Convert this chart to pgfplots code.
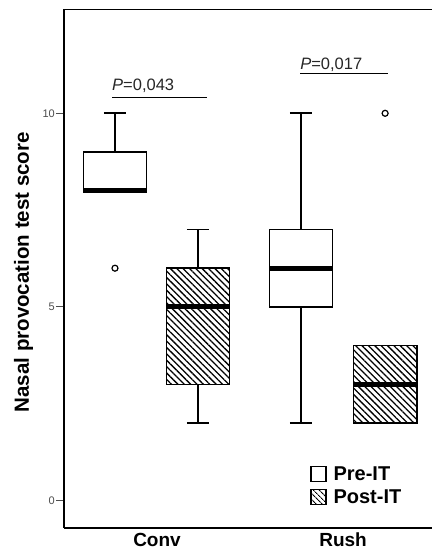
\documentclass[border=0pt]{standalone}
\usepackage{fontspec}
\setmainfont{Liberation Sans}
\usepackage{pgfplots}
\pgfplotsset{compat=1.18}
\usepgfplotslibrary{statistics}
\usetikzlibrary{patterns.meta}

\tikzset{hatch/.style={pattern={Lines[angle=-45,distance=4.5pt,line width=1.3pt]}, pattern color=black}}
\pgfplotsset{bx/.style={forget plot, black, line width=1.6pt, mark=o, mark size=3pt,
    mark options={line width=1.2pt, fill=white},
    boxplot/every median/.style={line width=5pt}}}

\begin{document}
\begin{tikzpicture}
\begin{axis}[
    name=ax,
    scale only axis,
    width=368pt, height=518.2pt,
    xmin=0.5, xmax=2.478,
    ymin=-0.70, ymax=12.68,
    separate axis lines,
    axis x line*=box,
    axis y line*=left,
    axis line style={line width=1.8pt},
    xtick={1,2},
    xticklabels={Conv,Rush},
    x tick style={draw=none},
    xticklabel style={font=\bfseries\fontsize{19}{19}\selectfont, inner sep=0pt, anchor=north, yshift=3pt},
    ytick={0,5,10},
    ytick pos=left,
    tick align=outside,
    major tick length=8pt,
    y tick style={line width=1pt, black!70},
    yticklabel style={font=\fontsize{11}{11}\selectfont, text=black!70, inner sep=1pt},
    /pgf/number format/assume math mode=true,
    ylabel={Nasal provocation test score},
    ylabel style={font=\bfseries\fontsize{20.5}{20.5}\selectfont, at={(axis description cs:-0.110,0.493)}, anchor=center},
    boxplot/draw direction=y,
    boxplot/box extend=0.34,
    boxplot/whisker extend=0.12,
    legend style={at={(axis cs:1.823,0.94)}, anchor=north west, draw=none, fill=none,
        font=\bfseries\fontsize{20}{20}\selectfont, inner sep=0pt, row sep=4pt,
        /tikz/every odd column/.append style={column sep=5pt}},
    legend cell align=left,
]
% Conv, pre-IT
\addplot[bx, fill=white,
  boxplot prepared={draw position=0.774, lower whisker=8, lower quartile=8,
    median=8, upper quartile=9, upper whisker=10}] coordinates {(0,6)};
% Conv, post-IT
\addplot[bx, boxplot/every box/.style={hatch},
  boxplot prepared={draw position=1.22, lower whisker=2, lower quartile=3,
    median=5, upper quartile=6, upper whisker=7}] coordinates {};
% Rush, pre-IT
\addplot[bx, fill=white,
  boxplot prepared={draw position=1.774, lower whisker=2, lower quartile=5,
    median=6, upper quartile=7, upper whisker=10}] coordinates {};
% Rush, post-IT
\addplot[bx, boxplot/every box/.style={hatch},
  boxplot prepared={draw position=2.226, lower whisker=2, lower quartile=2,
    median=3, upper quartile=4, upper whisker=4}] coordinates {(0,10)};

% significance bars
\addplot[forget plot, black, line width=1.6pt] coordinates {(0.758,10.41) (1.269,10.41)};
\addplot[forget plot, black, line width=1.6pt] coordinates {(1.769,11.03) (2.242,11.03)};
\node[anchor=base west, inner sep=0pt, font=\fontsize{16.5}{16.5}\selectfont, text=black!85] at (axis cs:0.758,10.60) {\textit{P}=0,043};
\node[anchor=base west, inner sep=0pt, font=\fontsize{16.5}{16.5}\selectfont, text=black!85] at (axis cs:1.769,11.12) {\textit{P}=0,017};

\addlegendimage{legend image code/.code={\draw[black, line width=1.2pt, fill=white] (0pt,-7.5pt) rectangle (15pt,7.5pt);}}
\addlegendentry{Pre-IT}
\addlegendimage{legend image code/.code={\draw[black, line width=1.2pt, pattern={Lines[angle=-45,distance=4pt,line width=1.1pt]}] (0pt,-7.5pt) rectangle (15pt,7.5pt);}}
\addlegendentry{Post-IT}
\end{axis}
\pgfresetboundingbox
\path ([xshift=-64pt,yshift=-22.3pt]ax.south west) rectangle ([yshift=9.5pt]ax.north east);
\end{tikzpicture}
\end{document}
